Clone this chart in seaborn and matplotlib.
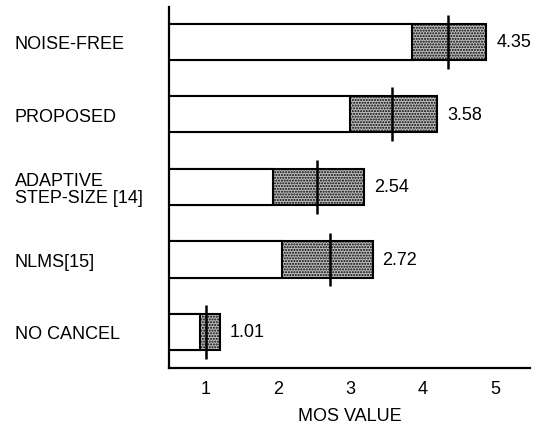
import matplotlib
matplotlib.use("Agg")
import matplotlib.pyplot as plt
import seaborn as sns
import pandas as pd

categories = ["NOISE-FREE", "PROPOSED", "ADAPTIVE\nSTEP-SIZE [14]", "NLMS[15]", "NO CANCEL"]
low_values = [3.86, 3.00, 1.93, 2.06, 0.93]     # end of white part
high_values = [4.88, 4.20, 3.19, 3.31, 1.20]    # end of shaded part
mean_values = [4.35, 3.58, 2.54, 2.72, 1.01]
mean_labels = ["4.35", "3.58", "2.54", "2.72", "1.01"]
x_ticks = [1, 2, 3, 4, 5]

df = pd.DataFrame({"cat": categories, "low": low_values, "high": high_values, "mean": mean_values})

sns.set_theme(style="white")
plt.rcParams["font.family"] = ["Liberation Sans", "DejaVu Sans"]
plt.rcParams["hatch.linewidth"] = 1.0
plt.rcParams["hatch.color"] = "#333333"

fig = plt.figure(figsize=(5.38, 4.39), dpi=100)
ax = fig.add_axes([0.314, 0.159, 0.671, 0.823])

sns.barplot(data=df, x="high", y="cat", orient="h", color="#bdbdbd",
            edgecolor="black", linewidth=1.5, width=0.5, ax=ax, saturation=1)
for p in ax.patches:
    p.set_hatch("......")
sns.barplot(data=df, x="low", y="cat", orient="h", color="white",
            edgecolor="black", linewidth=1.5, width=0.5, ax=ax, saturation=1)

for i, (m, h, lab) in enumerate(zip(mean_values, high_values, mean_labels)):
    ax.vlines(m, i - 0.37, i + 0.37, color="black", linewidth=1.8, zorder=5)
    ax.annotate(lab, xy=(h, i), xytext=(7, 0), textcoords="offset points",
                ha="left", va="center", fontsize=13, color="black")

ax.set_xlim(0.5, 5.48)
ax.set_ylim(4.5, -0.48)
ax.set_xticks(x_ticks)
ax.set_xticklabels([str(t) for t in x_ticks], fontsize=13)
ax.set_xlabel("MOS VALUE", fontsize=13, labelpad=7, color="black")
ax.set_ylabel("")
ax.tick_params(axis="x", direction="inout", length=9, width=1.5, colors="black", pad=4)
ax.tick_params(axis="y", length=0, pad=111, colors="black")
for lbl in ax.get_yticklabels():
    lbl.set_ha("left")
    lbl.set_fontsize(13)
    lbl.set_linespacing(1.0)
    lbl.set_color("black")
for lbl in ax.get_xticklabels():
    lbl.set_color("black")

for s in ["top", "right"]:
    ax.spines[s].set_visible(False)
for s in ["left", "bottom"]:
    ax.spines[s].set_linewidth(1.6)
    ax.spines[s].set_color("black")

fig.savefig("out.png", dpi=100)
